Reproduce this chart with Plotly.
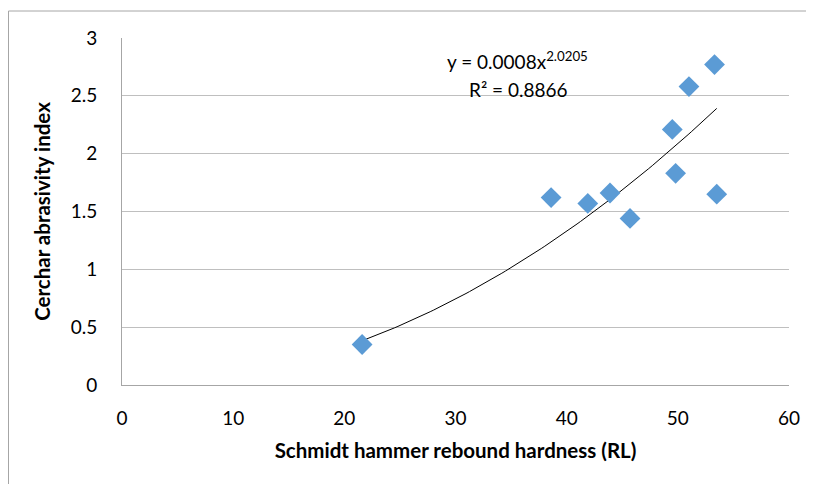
import numpy as np
import plotly.graph_objects as go

# Data
rebound_hardness = [21.6, 38.6, 41.9, 43.9, 45.7, 49.5, 49.8, 51.0, 53.3, 53.5]
cerchar_index = [0.35, 1.62, 1.57, 1.66, 1.44, 2.21, 1.83, 2.58, 2.77, 1.65]
coef_a = 0.00077   # displayed rounded as 0.0008
coef_b = 2.0205
x_ticks = [0, 10, 20, 30, 40, 50, 60]
y_ticks = [0, 0.5, 1, 1.5, 2, 2.5, 3]

OFF = 8  # page offset of the figure
W, H = 814 - OFF, 485 - OFF
L, T = 122 - OFF, 38 - OFF
pw, ph = 667, 347
R = W - L - pw
B = H - T - ph

xs = np.linspace(min(rebound_hardness), max(rebound_hardness), 100)
ys = coef_a * xs ** coef_b

FONT = "Lato, 'Open Sans', sans-serif"

fig = go.Figure()
fig.add_trace(go.Scatter(x=xs, y=ys, mode="lines",
                         line=dict(color="black", width=1), showlegend=False,
                         hoverinfo="skip"))
fig.add_trace(go.Scatter(x=rebound_hardness, y=cerchar_index, mode="markers",
                         marker=dict(symbol="diamond", size=16, color="#5B9BD5",
                                     line=dict(width=0)),
                         showlegend=False))

def px_x(p):
    return (p - OFF - L) / pw

def px_y(p):
    return (T + ph - (p - OFF)) / ph

fig.add_shape(type="line", xref="paper", yref="paper",
              x0=px_x(8.5), x1=px_x(812), y0=px_y(11), y1=px_y(11),
              line=dict(color="#A6A6A6", width=1))
fig.add_shape(type="line", xref="paper", yref="paper",
              x0=px_x(8.5), x1=px_x(8.5), y0=px_y(11), y1=px_y(484),
              line=dict(color="#A6A6A6", width=1))

fig.add_annotation(x=px_x(517), y=px_y(60), xref="paper", yref="paper",
                   xanchor="center", yanchor="middle",
                   text="y = 0.0008x<sup>2.0205</sup>", showarrow=False,
                   font=dict(family=FONT, size=19, color="black"))
fig.add_annotation(x=px_x(518), y=px_y(89), xref="paper", yref="paper",
                   xanchor="center", yanchor="middle",
                   text="R² = 0.8866", showarrow=False,
                   font=dict(family=FONT, size=19, color="black"))

fig.update_layout(
    width=W, height=H,
    margin=dict(l=L, r=R, t=T, b=B),
    paper_bgcolor="white", plot_bgcolor="white",
    font=dict(family=FONT, size=19, color="black"),
    xaxis=dict(range=[0, 60], tickvals=x_ticks, showgrid=False,
               showline=True, linecolor="#A6A6A6", linewidth=1,
               zeroline=False, ticks="", ticklabelstandoff=16,
               title=dict(text="<b>Schmidt hammer rebound hardness (RL)</b>",
                          font=dict(size=20.5), standoff=15)),
    yaxis=dict(range=[0, 3], tickvals=y_ticks, showgrid=True,
               gridcolor="#BFBFBF", gridwidth=1,
               showline=True, linecolor="#A6A6A6", linewidth=1,
               zeroline=False, ticks="", ticklabelstandoff=20,
               title=dict(text="<b>Cerchar abrasivity index</b>",
                          font=dict(size=20.5), standoff=14)),
)

fig.write_html("out.html", config={"displayModeBar": False},
               post_script="document.body.style.overflow='hidden';")
